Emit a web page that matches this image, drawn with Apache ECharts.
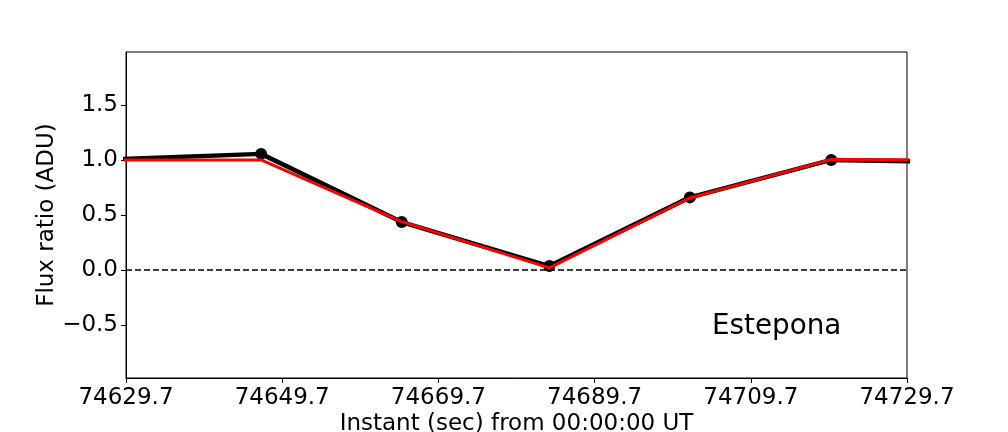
<!DOCTYPE html>
<html>
<head>
<meta charset="utf-8">
<script src="https://cdn.jsdelivr.net/npm/echarts@6/dist/echarts.min.js"></script>
<style>
html,body{margin:0;padding:0;background:#fff;}
#c{width:1008px;height:432px;}
</style>
</head>
<body>
<div id="c"></div>
<script>
// Data
var times = [74629.0, 74647.0, 74665.0, 74683.9, 74701.9, 74720.0, 74738.0];
var observed = [1.008, 1.055, 0.436, 0.036, 0.66, 1.0, 0.98];
var model = [1.0, 1.0, 0.44, 0.02, 0.655, 1.005, 1.0];
var xTicks = [74629.7, 74649.7, 74669.7, 74689.7, 74709.7, 74729.7];
var yTicks = [-0.5, 0.0, 0.5, 1.0, 1.5];
var xMin = 74629.7, xMax = 74729.7;
var yMin = -0.98, yMax = 1.98;
var siteLabel = 'Estepona';

var font = 'DejaVu Sans';
var fs = 23;
function pairs(xs, ys){ return xs.map(function(x,i){ return [x, ys[i]]; }); }

var chart = echarts.init(document.getElementById('c'), null, {renderer:'canvas'});
chart.setOption({
  animation: false,
  backgroundColor: '#fff',
  grid: {left: 126, right: 101, top: 52, bottom: 54, show: true, borderColor: '#000', borderWidth: 1,
    containLabel: false, outerBoundsMode: 'none'},
  xAxis: {
    type: 'value', min: xMin, max: xMax,
    name: 'Instant (sec) from 00:00:00 UT', nameLocation: 'middle', nameGap: 35, nameMoveOverlap: false,
    nameTextStyle: {fontFamily: font, fontSize: fs, color: '#000'},
    axisLine: {show: true, onZero: false, lineStyle: {color: '#000', width: 1}},
    axisTick: {show: true, length: 5, lineStyle: {color: '#000', width: 1}, customValues: xTicks},
    axisLabel: {customValues: xTicks, fontFamily: font, fontSize: fs, color: '#000', margin: 9,
      formatter: function(v){ return Number(v).toFixed(1); }},
    splitLine: {show: false}
  },
  yAxis: {
    type: 'value', min: yMin, max: yMax,
    name: 'Flux ratio (ADU)', nameLocation: 'middle', nameGap: 67, nameRotate: 90, nameMoveOverlap: false,
    nameTextStyle: {fontFamily: font, fontSize: fs, color: '#000'},
    axisLine: {show: true, onZero: false, lineStyle: {color: '#000', width: 1}},
    axisTick: {show: true, length: 5, lineStyle: {color: '#000', width: 1}, customValues: yTicks},
    axisLabel: {customValues: yTicks, fontFamily: font, fontSize: fs, color: '#000', margin: 8,
      formatter: function(v){ var s = Math.abs(v).toFixed(1); return v < -1e-9 ? '\u2212' + s : s; }},
    splitLine: {show: false}
  },
  graphic: [{
    type: 'text', left: 712, top: 313,
    style: {text: siteLabel, fontFamily: font, fontSize: 27.8, fill: '#000'}
  }],
  series: [
    {
      type: 'line', data: [], z: 1,
      markLine: {silent: true, symbol: ['none','none'], label: {show: false},
        lineStyle: {color: '#000', type: [6, 3], width: 1.5},
        data: [{yAxis: 0}]}
    },
    {
      name: 'observed', type: 'line', data: pairs(times, observed), z: 2, clip: true,
      lineStyle: {color: '#000', width: 4.5},
      itemStyle: {color: '#000'},
      symbol: 'circle',
      symbolSize: function(v){ return (v[0] < xMin || v[0] > xMax) ? 0 : 12; },
      showAllSymbol: true
    },
    {
      name: 'model', type: 'line', data: pairs(times, model), z: 3, clip: true,
      lineStyle: {color: '#ff0000', width: 3},
      showSymbol: false, symbol: 'none'
    }
  ]
});
</script>
</body>
</html>
